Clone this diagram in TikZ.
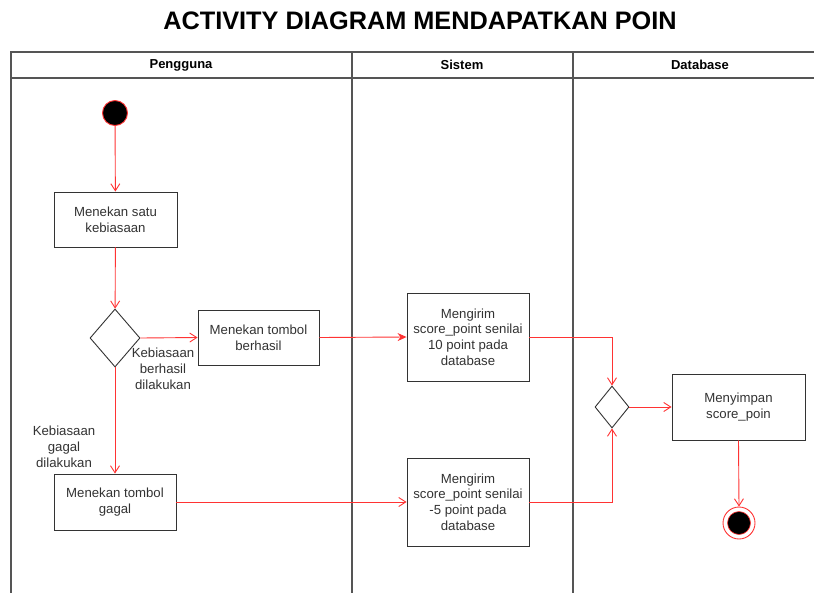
\documentclass[tikz,border=0pt]{standalone}
\usepackage{fontspec}
\setmainfont{Liberation Sans}
\usetikzlibrary{arrows.meta,shapes.geometric}
\definecolor{fred}{HTML}{FF3333}
\definecolor{txt}{HTML}{333333}
\definecolor{lane}{HTML}{555555}
\tikzset{
  act/.style={draw=txt, line width=0.9pt, fill=white, text=txt, font=\fontsize{13.2}{15.6}\selectfont, align=center, inner sep=0pt},
  dec/.style={draw=txt, line width=0.9pt, fill=white, diamond, inner sep=0pt},
  flow/.style={draw=fred, line width=0.9pt, -{Straight Barb[length=7pt,width=9pt]}},
  flowf/.style={draw=fred, line width=0.9pt, -{Stealth[length=9pt,width=8pt,inset=3pt]}},
  lbl/.style={text=txt, font=\fontsize{13.2}{16}\selectfont, align=center, inner sep=0pt},
  hdr/.style={font=\bfseries\fontsize{13}{15}\selectfont, text=black, inner sep=0pt}
}
\begin{document}
\begin{tikzpicture}[x=1pt,y=-1pt]
\useasboundingbox (0,0) rectangle (814,592);
\fill[white] (0,0) rectangle (814,592);
\begin{scope}
\clip (0,0) rectangle (814,592);
% swimlanes
\draw[lane, line width=1.2pt] (11,600) -- (11,52) -- (830,52);
\draw[lane, line width=1.2pt] (11,78) -- (830,78);
\draw[lane, line width=1.2pt] (352,52) -- (352,600);
\draw[lane, line width=1.2pt] (573,52) -- (573,600);
\end{scope}
\node[font=\bfseries\fontsize{25.3}{28}\selectfont] (title) at (420,21) {ACTIVITY DIAGRAM MENDAPATKAN POIN};
\node[hdr] (h1) at (181,65) {Pengguna};
\node[hdr] (h2) at (462,65) {Sistem};
\node[hdr] (h3) at (700,65) {Database};

% nodes
\node[circle, fill=black, draw=fred, line width=0.9pt, minimum size=25pt, inner sep=0pt] (start) at (115,113) {};
\node[act, minimum width=123pt, minimum height=55pt] (a1) at (115.5,219.5) {Menekan satu\\kebiasaan};
\node[dec, minimum width=50pt, minimum height=58pt] (d1) at (115,338) {};
\node[act, minimum width=121pt, minimum height=55pt] (a2) at (258.5,337.5) {Menekan tombol\\berhasil};
\node[act, minimum width=122pt, minimum height=56pt] (a3) at (115,502) {Menekan tombol\\gagal};
\node[act, minimum width=122pt, minimum height=88pt] (a4) at (468,337) {Mengirim\\score\_point senilai\\10 point pada\\database};
\node[act, minimum width=122pt, minimum height=88pt] (a5) at (468,502) {Mengirim\\score\_point senilai\\-5 point pada\\database};
\node[dec, minimum width=34pt, minimum height=42pt] (d2) at (612,407) {};
\node[act, minimum width=133pt, minimum height=66pt] (a6) at (738.5,407) {Menyimpan\\score\_poin};
\node[circle, draw=fred, fill=white, line width=0.9pt, minimum size=32pt, inner sep=0pt] (endo) at (739,523) {};
\node[circle, fill=black, draw=fred, line width=0.6pt, minimum size=23pt, inner sep=0pt] (endi) at (739,523) {};

\node[lbl] (l1) at (163,369) {Kebiasaan\\berhasil\\dilakukan};
\node[lbl] (l2) at (64,446.5) {Kebiasaan\\gagal\\dilakukan};

% edges
\draw[flow] (start) -- (a1);
\draw[flow] (a1) -- (d1);
\draw[flow] (d1.east) -- (a2.west);
\draw[flow] (d1.south) -- (a3.north);
\draw[flowf] (a2.east) -- (a4.west);
\draw[flow] (a3.east) -- (a5.west);
\draw[flow] (a4.east) -| (d2.north);
\draw[flow] (a5.east) -| (d2.south);
\draw[flow] (d2.east) -- (a6.west);
\draw[flow] (a6.south) -- (endo.north);
\end{tikzpicture}
\end{document}
